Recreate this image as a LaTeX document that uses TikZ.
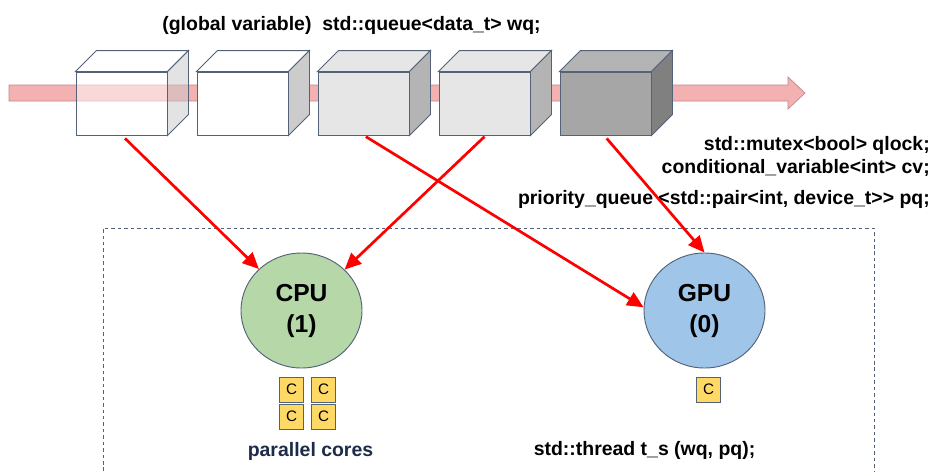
\documentclass[tikz,border=0pt]{standalone}
\usepackage{fontspec}
\setmainfont{Liberation Sans}
\usetikzlibrary{arrows.meta,shapes.geometric}
\definecolor{slate}{RGB}{84,98,120}
\definecolor{bandpink}{RGB}{244,177,177}
\definecolor{bandedge}{RGB}{190,135,140}
\definecolor{sideone}{RGB}{200,200,200}
\definecolor{sidetwo}{RGB}{204,204,204}
\definecolor{lightq}{RGB}{230,230,230}
\definecolor{lightside}{RGB}{180,180,180}
\definecolor{darkq}{RGB}{166,166,166}
\definecolor{darktop}{RGB}{180,180,180}
\definecolor{darkside}{RGB}{128,128,128}
\definecolor{cpugreen}{RGB}{182,215,168}
\definecolor{gpublue}{RGB}{159,197,232}
\definecolor{coreyellow}{RGB}{255,217,102}
\definecolor{navy}{RGB}{28,43,72}
\def\dep{0.63cm}
\begin{document}
\begin{tikzpicture}[x=0.03cm, y=-0.03cm,
   every node/.style={inner sep=0, font=\bfseries\fontsize{16.6}{19}\selectfont},
   cubeline/.style={draw=slate, line width=0.8pt},
   qface/.style={cubeline, minimum width=2.73cm, minimum height=1.89cm},
   feed/.style={draw=red, line width=2.3pt, -{Triangle[length=14pt,width=12.5pt]}},
   unit/.style={ellipse, draw=slate, line width=0.8pt, minimum width=3.63cm,
                minimum height=3.45cm, align=center,
                font=\bfseries\fontsize{21}{26.5}\selectfont},
   core/.style={draw=slate, line width=0.8pt, fill=coreyellow, minimum width=0.72cm,
                minimum height=0.75cm, font=\fontsize{13}{13}\selectfont}]

\useasboundingbox (0,0) rectangle (933,471);

\draw[draw=bandedge, line width=0.6pt, fill=bandpink]
   (9,85) -- (788,85) -- (788,77) -- (805,93) -- (788,109) -- (788,101) -- (9,101) -- cycle;

\foreach \i/\fr/\tp/\sd/\op in {1/white/white/sideone/0.5, 2/white/white/sidetwo/1,
      3/lightq/lightq/lightside/1, 4/lightq/lightq/lightside/1, 5/darkq/darktop/darkside/1}
{
   \node[qface, fill=\fr, fill opacity=\op] (q\i) at ({121*\i+0.5},103.5) {};
   \draw[cubeline, fill=\tp, fill opacity=\op] (q\i.north west) -- ++(\dep,\dep)
      -- ([shift={(\dep,\dep)}]q\i.north east) -- (q\i.north east) -- cycle;
   \draw[cubeline, fill=\sd, fill opacity=\op] (q\i.north east) -- ++(\dep,\dep)
      -- ([shift={(\dep,\dep)}]q\i.south east) -- (q\i.south east) -- cycle;
}

\node (wq) at (351.5,26) {(global variable)\ \ std::queue<data\_t> wq;};
\node[anchor=east] (qlock) at (930,145) {std::mutex<bool> qlock;};
\node[anchor=east] (cv) at (930,168) {conditional\_variable<int> cv;};
\node[anchor=east] (pq) at (930,199) {priority\_queue <std::pair<int, device\_t>{}> pq;};

\draw[cubeline, dash pattern=on 3pt off 2.5pt] (103,471) -- (103,228) -- (874,228) -- (874,471);

\node[unit, fill=cpugreen] (cpu) at (301.5,310.5) {CPU\\(1)};
\node[unit, fill=gpublue] (gpu) at (704.5,310.5) {GPU\\(0)};

\foreach \cx/\cy [count=\k] in {291.5/389.5, 323.5/389.5, 291.5/416.5, 323.5/416.5}
   \node[core] (c\k) at (\cx,\cy) {C};
\node[core] (g1) at (708.5,389.5) {C};

\node[text=navy] (cores) at (310.5,451) {parallel cores};
\node (ts) at (644.5,450) {std::thread t\_s (wq, pq);};

\draw[feed] ([shift={(3pt,-2.5pt)}]q1.south) -- (cpu);
\draw[feed] ([yshift=-1pt]q4.south) -- (cpu);
\draw[feed] ([shift={(2pt,-1pt)}]q3.south) -- (gpu.177);
\draw[feed] ([shift={(1pt,-2.5pt)}]q5.south) -- (gpu.north);

\end{tikzpicture}
\end{document}
